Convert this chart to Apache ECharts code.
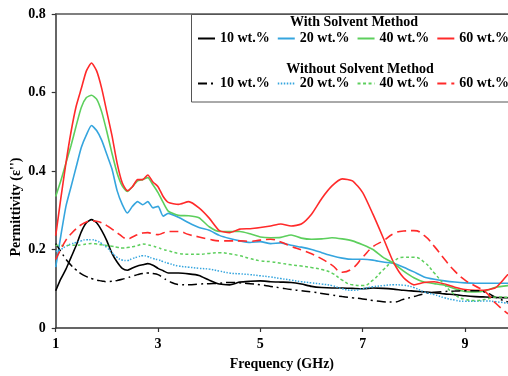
<!DOCTYPE html>
<html>
<head>
<meta charset="utf-8">
<script src="https://cdn.jsdelivr.net/npm/echarts@6/dist/echarts.min.js"></script>
<style>
html,body{margin:0;padding:0;background:#fff;}
#chart{width:508px;height:376px;}
</style>
</head>
<body>
<div id="chart"></div>
<script>
// Frequency (GHz)
var freq = [1.0,1.1,1.2,1.3,1.4,1.5,1.6,1.7,1.8,1.9,2.0,2.1,2.2,2.3,2.4,2.5,2.6,2.7,2.8,2.9,3.0,3.1,3.2,
  3.4,3.6,3.8,4.0,4.2,4.4,4.6,4.8,5.0,5.2,5.4,5.6,5.8,6.0,6.2,6.4,6.6,6.8,7.0,7.2,7.4,7.6,7.8,8.0,8.2,8.4,8.6,8.8,9.0,9.2,9.4,9.6,9.84];

// With solvent method
var with10 = [0.095,0.125,0.15,0.18,0.21,0.245,0.268,0.276,0.268,0.248,0.222,0.19,0.168,0.152,0.147,0.153,0.158,0.161,0.164,0.16,0.152,0.146,0.14,
  0.14,0.138,0.134,0.122,0.112,0.11,0.117,0.119,0.12,0.118,0.117,0.116,0.112,0.106,0.103,0.102,0.102,0.101,0.1,0.102,0.101,0.099,0.096,0.094,0.092,0.09,0.087,0.085,0.082,0.08,0.079,0.078,0.077];
var with20 = [0.155,0.235,0.31,0.36,0.41,0.46,0.492,0.516,0.503,0.478,0.442,0.405,0.35,0.315,0.293,0.31,0.322,0.314,0.322,0.306,0.31,0.285,0.292,
  0.282,0.268,0.256,0.249,0.236,0.228,0.222,0.218,0.22,0.215,0.217,0.211,0.206,0.2,0.192,0.184,0.178,0.175,0.175,0.173,0.168,0.165,0.155,0.143,0.13,0.124,0.12,0.117,0.115,0.114,0.114,0.114,0.114];
var with40 = [0.335,0.375,0.42,0.465,0.515,0.562,0.587,0.593,0.583,0.55,0.5,0.445,0.395,0.362,0.348,0.36,0.375,0.378,0.383,0.365,0.345,0.32,0.298,
  0.287,0.286,0.281,0.258,0.246,0.246,0.246,0.24,0.232,0.23,0.231,0.237,0.229,0.226,0.227,0.23,0.227,0.222,0.212,0.2,0.18,0.165,0.145,0.128,0.117,0.113,0.109,0.1,0.093,0.092,0.095,0.104,0.108];
var with60 = [0.235,0.33,0.42,0.5,0.565,0.61,0.655,0.675,0.655,0.61,0.55,0.49,0.42,0.37,0.35,0.36,0.378,0.378,0.39,0.372,0.36,0.335,0.32,
  0.315,0.322,0.306,0.28,0.248,0.243,0.252,0.253,0.256,0.26,0.265,0.26,0.265,0.29,0.33,0.362,0.38,0.375,0.345,0.29,0.23,0.168,0.128,0.11,0.116,0.118,0.112,0.104,0.098,0.096,0.097,0.103,0.137];

// Without solvent method
var without10 = [0.215,0.195,0.175,0.16,0.148,0.138,0.131,0.126,0.122,0.12,0.118,0.119,0.121,0.124,0.128,0.132,0.136,0.139,0.14,0.139,0.136,0.128,0.12,
  0.111,0.11,0.112,0.113,0.114,0.116,0.115,0.113,0.11,0.106,0.102,0.098,0.095,0.092,0.088,0.084,0.08,0.077,0.074,0.07,0.067,0.066,0.073,0.08,0.087,0.091,0.093,0.094,0.095,0.095,0.091,0.078,0.066];
var without20 = [0.195,0.2,0.208,0.214,0.218,0.222,0.225,0.225,0.222,0.215,0.205,0.192,0.18,0.173,0.172,0.177,0.181,0.184,0.182,0.177,0.174,0.169,0.165,
  0.158,0.155,0.152,0.15,0.145,0.14,0.138,0.136,0.133,0.13,0.126,0.122,0.118,0.115,0.112,0.108,0.1,0.096,0.1,0.105,0.108,0.11,0.109,0.103,0.092,0.085,0.077,0.071,0.068,0.068,0.069,0.067,0.063];
var without40 = [0.211,0.21,0.21,0.211,0.211,0.212,0.214,0.215,0.214,0.212,0.21,0.208,0.206,0.204,0.205,0.207,0.21,0.214,0.212,0.209,0.205,0.2,0.197,
  0.19,0.188,0.188,0.19,0.192,0.189,0.184,0.177,0.171,0.169,0.165,0.161,0.158,0.154,0.149,0.14,0.122,0.11,0.108,0.122,0.148,0.17,0.18,0.18,0.168,0.14,0.11,0.085,0.073,0.07,0.073,0.079,0.078];
var without60 = [0.175,0.2,0.224,0.24,0.253,0.263,0.27,0.273,0.272,0.268,0.261,0.252,0.243,0.233,0.226,0.232,0.238,0.242,0.243,0.24,0.238,0.242,0.246,
  0.246,0.238,0.232,0.226,0.222,0.222,0.222,0.221,0.224,0.226,0.219,0.208,0.199,0.189,0.176,0.16,0.142,0.152,0.18,0.207,0.222,0.24,0.247,0.248,0.236,0.208,0.175,0.145,0.122,0.107,0.092,0.063,0.036];

var xTicks = [1,3,5,7,9];
var yTicks = [0,0.2,0.4,0.6,0.8];
var legendLabels = ['10 wt.%','20 wt.%','40 wt.%','60 wt.%'];

var FONT = '"Liberation Serif","Times New Roman",serif';
var FS = 14;
var C = {k:'#000000', b:'#35a5de', g:'#5dcf5d', r:'#ff2a2a'};

function pairs(ys){ return freq.map(function(f,i){ return [f, ys[i]]; }); }
function mk(name, ys, color, type, smooth, width){
  return {name:name, type:'line', data:pairs(ys), symbol:'none', smooth:smooth,
    lineStyle:{color:color, width:width, type:type}, itemStyle:{color:color}, z:3};
}
var series = [
  mk('W10', with10, C.k, 'solid', 0.2, 1.6),
  mk('W20', with20, C.b, 'solid', 0.2, 1.6),
  mk('W40', with40, C.g, 'solid', 0.2, 1.6),
  mk('W60', with60, C.r, 'solid', 0.2, 1.6),
  mk('N10', without10, C.k, [9,4,2,4], true, 1.5),
  mk('N20', without20, C.b, [1.5,1.5], true, 1.5),
  mk('N40', without40, C.g, [3,2.5], true, 1.5),
  mk('N60', without60, C.r, [9,5], true, 1.6)
];
function fmtLegend(name){ return legendLabels[['10','20','40','60'].indexOf(name.slice(1))]; }

var txt = {fontFamily:FONT, fontWeight:'bold', fontSize:FS, color:'#000'};
function legendRow(names, top){
  return {data:names, left:197, top:top, width:330, padding:0, itemWidth:17, itemHeight:10, itemGap:7,
    itemStyle:{opacity:0}, formatter:fmtLegend, textStyle:txt};
}

var chart = echarts.init(document.getElementById('chart'), null, {renderer:'canvas'});
chart.setOption({
  animation:false,
  backgroundColor:'#ffffff',
  grid:{left:55.7, right:0, top:14, bottom:45},
  title:[
    {text:'With Solvent Method', left:354, top:15.5, padding:0, textAlign:'center', textStyle:txt},
    {text:'Without Solvent Method', left:360, top:62.5, padding:0, textAlign:'center', textStyle:txt}
  ],
  legend:[ legendRow(['W10','W20','W40','W60'], 31.5), legendRow(['N10','N20','N40','N60'], 76.5) ],
  xAxis:[
    {type:'value', min:1, max:9.84, interval:2, position:'bottom',
     name:'Frequency (GHz)', nameLocation:'middle', nameGap:29, nameTextStyle:txt,
     axisLine:{show:true, lineStyle:{color:'#333', width:1.5}},
     axisTick:{show:true, length:4, lineStyle:{color:'#333', width:1.2}},
     splitLine:{show:false},
     axisLabel:{margin:9, showMaxLabel:false, fontFamily:FONT, fontWeight:'bold', fontSize:FS, color:'#000',
       formatter:function(v){ return xTicks.indexOf(v) >= 0 ? String(v) : ''; }}},
    {type:'value', min:1, max:9.84, interval:2, position:'top',
     axisLine:{show:true, lineStyle:{color:'#555', width:1.5}},
     axisTick:{show:false}, axisLabel:{show:false}, splitLine:{show:false}}
  ],
  yAxis:{type:'value', min:0, max:0.8, interval:0.2,
     axisLine:{show:true, lineStyle:{color:'#333', width:1.5}},
     axisTick:{show:true, length:4, lineStyle:{color:'#333', width:1.2}},
     splitLine:{show:false},
     axisLabel:{margin:10, fontFamily:FONT, fontWeight:'bold', fontSize:FS, color:'#000',
       formatter:function(v){ var t = yTicks.filter(function(k){return Math.abs(k-v)<1e-9;}); return t.length ? String(t[0]) : ''; }}},
  graphic:[
    {type:'rect', shape:{x:191.5, y:14.5, width:330, height:87.5}, style:{fill:'none', stroke:'#555', lineWidth:1}, silent:true},
    {type:'text', x:16, y:207, rotation:Math.PI/2, style:{text:"Permittivity (\u03b5'')", fontFamily:FONT, fontWeight:'bold', fontSize:FS, fill:'#000', align:'center', verticalAlign:'middle'}}
  ],
  series:series
});
</script>
</body>
</html>
